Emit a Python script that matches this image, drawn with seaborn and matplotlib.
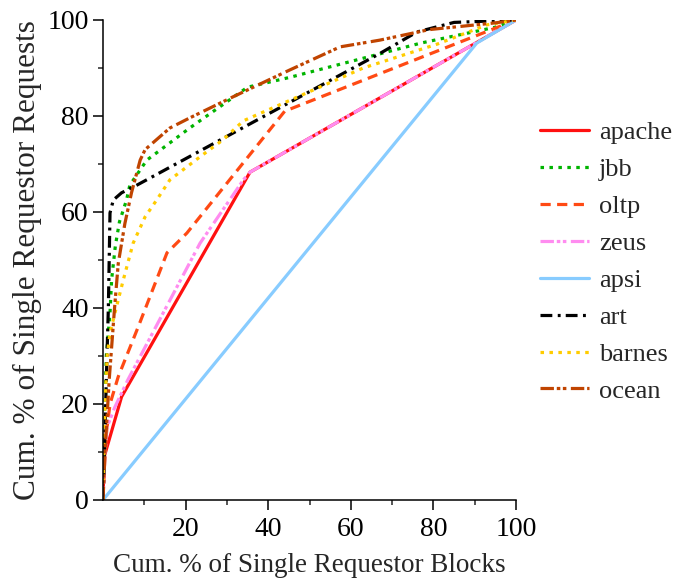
import matplotlib
matplotlib.use("Agg")
import matplotlib.pyplot as plt
import seaborn as sns
import pandas as pd

# ---- data -------------------------------------------------------------
series_names = ["apache", "jbb", "oltp", "zeus", "apsi", "art", "barnes", "ocean"]

apache_x = [0, 0.3, 4.5, 35.6, 100]
apache_y = [0, 9, 21.5, 68.3, 100]

jbb_x = [0, 0.3, 0.8, 1.7, 2.1, 3.0, 4.0, 5.7, 6.5, 10.6, 21, 35, 45, 61.5, 77, 95, 100]
jbb_y = [0, 15, 30, 39, 46, 53, 58, 62.5, 65.6, 70.8, 77.5, 86, 88, 91.7, 95.2, 98.5, 100]

oltp_x = [0, 0.4, 0.9, 1.7, 3.7, 8.5, 15.5, 20.3, 44, 100]
oltp_y = [0, 8, 14.6, 20, 25.7, 36, 51.5, 55.6, 81, 100]

zeus_x = [0, 0.4, 0.9, 2.9, 6.0, 23.5, 34, 35.6, 100]
zeus_y = [0, 8, 15, 19.4, 25, 53.5, 66.7, 68.3, 100]

apsi_x = [0, 90.5, 100]
apsi_y = [0, 95.2, 100]

art_x = [0, 0.3, 0.8, 1.3, 1.7, 2.5, 4.5, 8, 67, 76, 85, 100]
art_y = [0, 8, 25, 40, 59.8, 62.5, 64, 65.5, 93, 97.5, 99.5, 100]

barnes_x = [0, 0.2, 0.5, 1.0, 1.7, 2.9, 4.9, 7.3, 10.2, 13, 16.2, 23.5, 29, 34, 63, 81, 93, 100]
barnes_y = [0, 10, 20, 30, 34.8, 39, 45.8, 53.5, 59, 62.5, 66.7, 71.5, 75, 79, 90, 95, 99, 100]

ocean_x = [0, 0.5, 1.5, 2.8, 3.7, 5.3, 6.9, 9, 10.2, 16.2, 21, 31.5, 45, 57.4, 67, 79, 95, 100]
ocean_y = [0, 10, 25, 40, 49.3, 57.6, 64, 70.8, 73, 77.5, 79.6, 84, 89.5, 94.4, 95.8, 98, 99.4, 100]

x_ticks = [20, 40, 60, 80, 100]
y_ticks = [0, 20, 40, 60, 80, 100]

# ---- build long table ---------------------------------------------------
xs = [apache_x, jbb_x, oltp_x, zeus_x, apsi_x, art_x, barnes_x, ocean_x]
ys = [apache_y, jbb_y, oltp_y, zeus_y, apsi_y, art_y, barnes_y, ocean_y]
rows = []
for name, xv, yv in zip(series_names, xs, ys):
    for a, b in zip(xv, yv):
        rows.append({"series": name, "x": a, "y": b})
df = pd.DataFrame(rows)

palette = {
    "apache": "#ff1010",
    "jbb": "#00b400",
    "oltp": "#ff4a14",
    "zeus": "#ff8cf0",
    "apsi": "#88ccff",
    "art": "#000000",
    "barnes": "#ffcc00",
    "ocean": "#c04400",
}
dashes = {
    "apache": "",
    "jbb": (1.1, 1.7),
    "oltp": (3.2, 2.0),
    "zeus": (4.2, 0.9, 1.1, 0.8, 1.1, 1.4),
    "apsi": "",
    "art": (3.7, 1.7, 0.9, 1.6),
    "barnes": (1.1, 1.7),
    "ocean": (4.2, 0.9, 1.1, 0.8, 1.1, 1.4),
}

# ---- style ----------------------------------------------------------------
sns.set_style("ticks")
plt.rcParams["font.family"] = ["Liberation Serif", "DejaVu Serif"]
plt.rcParams["font.size"] = 19

fig = plt.figure(figsize=(6.74, 5.83), dpi=100)
ax = fig.add_axes([0.1528, 0.1424, 0.6128, 0.8233])

sns.lineplot(data=df, x="x", y="y", hue="series", style="series",
             hue_order=series_names, style_order=series_names,
             palette=palette, dashes=dashes, linewidth=2.3,
             sort=False, estimator=None, ax=ax, legend=True)

ax.set_xlim(0, 100)
ax.set_ylim(0, 100)
ax.set_xticks(x_ticks)
ax.set_xticks([10, 30, 50, 70, 90], minor=True)
ax.set_yticks(y_ticks)
ax.set_yticks([10, 30, 50, 70, 90], minor=True)
ax.tick_params(which="major", direction="out", length=7.2, width=1.1,
               labelsize=20, pad=3, colors="black")
ax.tick_params(which="minor", direction="out", length=3.6, width=1.1)
ax.tick_params(axis="x", which="major", pad=5)

for s in ["top", "right"]:
    ax.spines[s].set_visible(False)
for s in ["left", "bottom"]:
    ax.spines[s].set_linewidth(1.1)
    ax.spines[s].set_color("black")

ax.set_xlabel("Cum. % of Single Requestor Blocks", fontsize=19.5, labelpad=8)
ax.set_ylabel("Cum. % of Single Requestor Requests", fontsize=22.5, labelpad=4)

handles, labels = ax.get_legend_handles_labels()
ax.legend(handles, labels, loc="upper left", bbox_to_anchor=(0.801, 0.793),
          bbox_transform=fig.transFigure, frameon=False, fontsize=19,
          handlelength=1.85, handletextpad=0.4, labelspacing=0.51,
          borderpad=0, borderaxespad=0)

fig.savefig("out.png", dpi=100)
